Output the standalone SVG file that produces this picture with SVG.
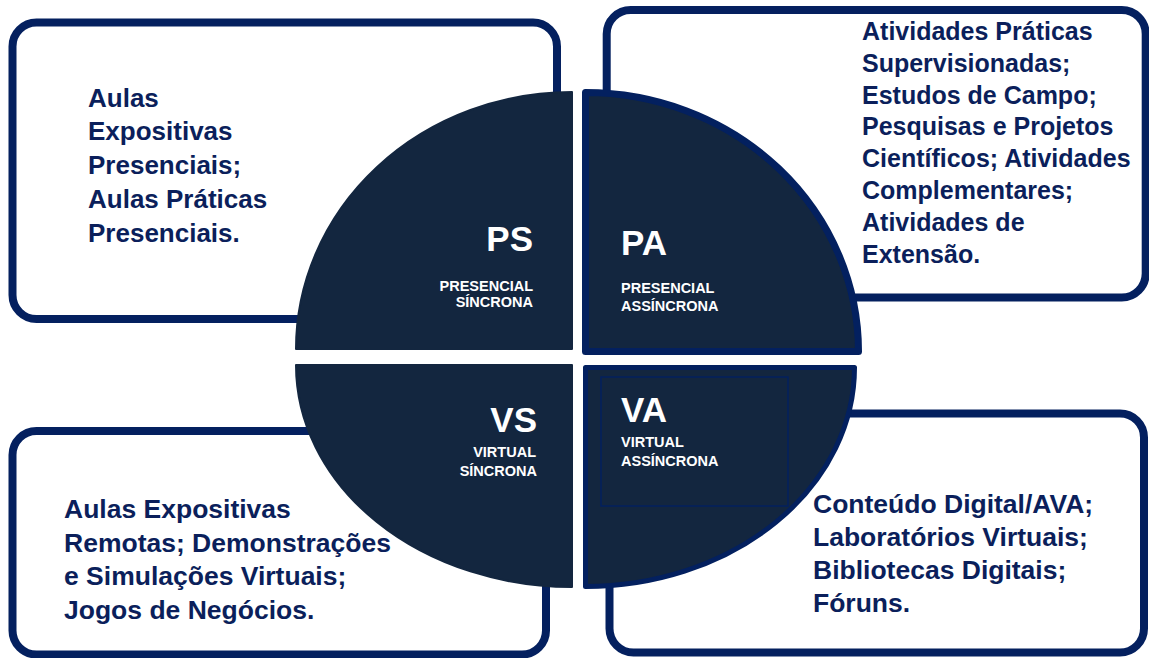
<svg xmlns="http://www.w3.org/2000/svg" width="1149" height="658" viewBox="0 0 1149 658">
  <style>
    .box { fill: #ffffff; stroke: #04205f; stroke-width: 8; }
    .quad { fill: #13263f; stroke: #13263f; stroke-width: 2; stroke-linejoin: round; }
    .quadb { fill: #13263f; stroke: #03205f; stroke-linejoin: round; }
    .body { font-family: "Liberation Sans", Arial, sans-serif; font-weight: 700; fill: #0b1f5b; }
    .big { font-family: "Liberation Sans", Arial, sans-serif; font-weight: 700; fill: #ffffff; font-size: 35px; }
    .small { font-family: "Liberation Sans", Arial, sans-serif; font-weight: 700; fill: #ffffff; font-size: 14.5px; }
  </style>
  <rect width="1149" height="658" fill="#ffffff"/>

  <g id="box-ps">
    <rect class="box" x="12.5" y="22.5" width="544.5" height="296.5" rx="24" ry="24"/>
    <text class="body" font-size="26" x="88">
      <tspan x="88" y="106.5">Aulas</tspan>
      <tspan x="88" y="140.2">Expositivas</tspan>
      <tspan x="88" y="174">Presenciais;</tspan>
      <tspan x="88" y="208">Aulas Práticas</tspan>
      <tspan x="88" y="241.5">Presenciais.</tspan>
    </text>
  </g>

  <g id="box-pa">
    <rect class="box" x="606.7" y="10" width="539" height="287.5" rx="24" ry="24"/>
    <text class="body" font-size="25" x="862">
      <tspan x="862" y="40">Atividades Práticas</tspan>
      <tspan x="862" y="71.8">Supervisionadas;</tspan>
      <tspan x="862" y="103.6">Estudos de Campo;</tspan>
      <tspan x="862" y="135.4">Pesquisas e Projetos</tspan>
      <tspan x="862" y="167.2">Científicos; Atividades</tspan>
      <tspan x="862" y="199">Complementares;</tspan>
      <tspan x="862" y="230.8">Atividades de</tspan>
      <tspan x="862" y="262.6">Extensão.</tspan>
    </text>
  </g>

  <g id="box-vs">
    <rect class="box" x="12.5" y="431" width="533.5" height="223.5" rx="24" ry="24"/>
    <text class="body" font-size="26.5" x="64">
      <tspan x="64" y="518">Aulas Expositivas</tspan>
      <tspan x="64" y="551.5">Remotas; Demonstrações</tspan>
      <tspan x="64" y="585">e Simulações Virtuais;</tspan>
      <tspan x="64" y="618.5">Jogos de Negócios.</tspan>
    </text>
  </g>

  <g id="box-va">
    <rect class="box" x="609.5" y="413.5" width="534.5" height="239" rx="24" ry="24"/>
    <text class="body" font-size="26.5" x="813">
      <tspan x="813" y="512.5">Conteúdo Digital/AVA;</tspan>
      <tspan x="813" y="545.5">Laboratórios Virtuais;</tspan>
      <tspan x="813" y="578.5">Bibliotecas Digitais;</tspan>
      <tspan x="813" y="611.5">Fóruns.</tspan>
    </text>
  </g>

  <g id="quad-ps">
    <path class="quad" d="M 572 349 L 296 349 A 276 257 0 0 1 572 92 Z"/>
    <text class="big" x="533" y="251" text-anchor="end">PS</text>
    <text class="small" x="533" y="291" text-anchor="end">PRESENCIAL</text>
    <text class="small" x="533" y="307.3" text-anchor="end">SÍNCRONA</text>
  </g>

  <g id="quad-pa">
    <path class="quadb" stroke-width="7" d="M 585.5 92.5 A 273 259 0 0 1 858.5 351.5 L 585.5 351.5 Z"/>
    <text class="big" x="621" y="255">PA</text>
    <text class="small" x="621" y="292.7">PRESENCIAL</text>
    <text class="small" x="621" y="310.7">ASSÍNCRONA</text>
  </g>

  <g id="quad-vs">
    <path class="quad" d="M 572 365 L 296 365 A 276 222 0 0 0 572 587 Z"/>
    <text class="big" x="537" y="431.5" text-anchor="end">VS</text>
    <text class="small" x="536" y="456.7" text-anchor="end">VIRTUAL</text>
    <text class="small" x="537" y="475.7" text-anchor="end">SÍNCRONA</text>
  </g>

  <g id="quad-va">
    <path class="quadb" stroke-width="5" d="M 585.5 367.5 L 854.5 367.5 A 269 219 0 0 1 585.5 586.5 Z"/>
    <rect x="601" y="377" width="187" height="129" fill="none" stroke="#03205f" stroke-width="1.5"/>
    <text class="big" x="621" y="421.5">VA</text>
    <text class="small" x="621" y="446.7">VIRTUAL</text>
    <text class="small" x="621" y="465.7">ASSÍNCRONA</text>
  </g>

  <g id="connectors"></g>
</svg>
